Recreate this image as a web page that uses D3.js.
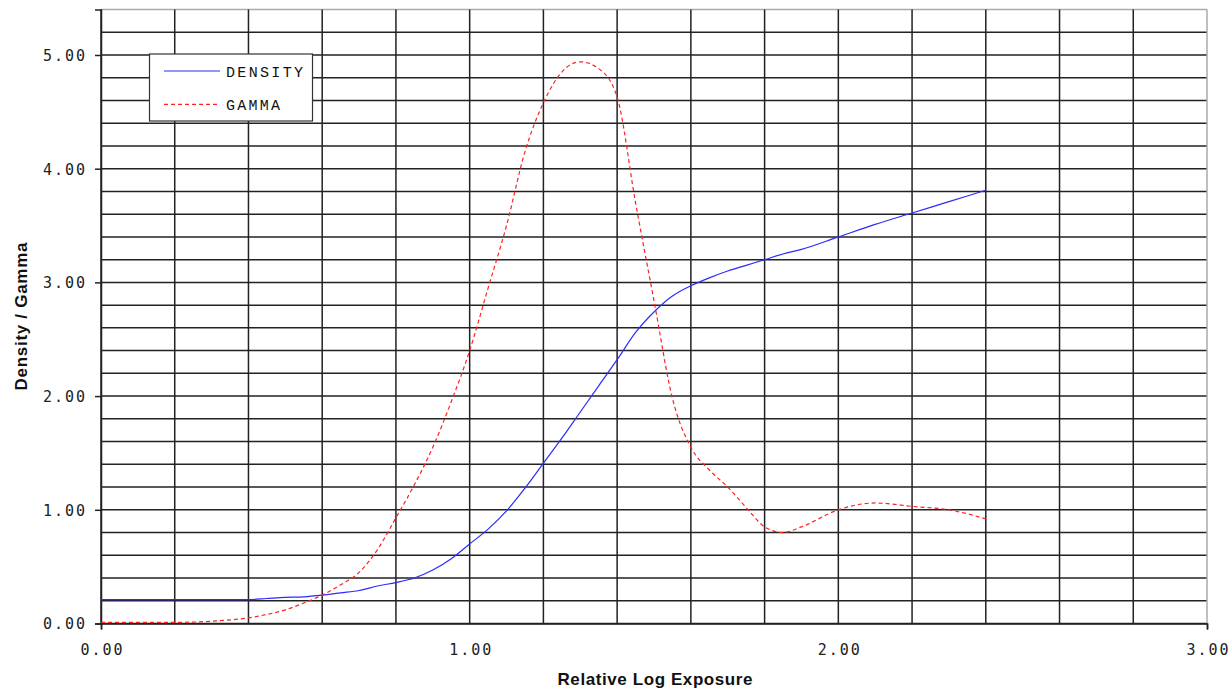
<!DOCTYPE html>
<html><head><meta charset="utf-8">
<script src="https://cdn.jsdelivr.net/npm/d3@7"></script>
<style>
html,body{margin:0;padding:0;background:#fff;}
svg{display:block;}
.tick-label{font-family:"DejaVu Sans Mono","Liberation Mono",monospace;font-size:15px;fill:#222;}
.axis-title{font-family:"Liberation Sans",Arial,sans-serif;font-weight:bold;font-size:17px;fill:#111;}
.legend-text{font-family:"Liberation Mono","Courier New",monospace;font-size:15px;fill:#111;}
</style>
</head><body>
<svg id="chart" width="1230" height="691"></svg>
<script>
const exposure = [0.00,0.10,0.20,0.30,0.40,0.45,0.50,0.55,0.60,0.65,0.70,0.75,0.80,0.85,0.90,0.95,1.00,1.05,1.10,1.15,1.20,1.25,1.30,1.35,1.40,1.45,1.50,1.55,1.60,1.65,1.70,1.75,1.80,1.85,1.90,2.00,2.10,2.20,2.30,2.40];
const density  = [0.21,0.21,0.21,0.21,0.21,0.22,0.23,0.235,0.25,0.27,0.29,0.33,0.36,0.40,0.47,0.57,0.70,0.83,0.99,1.19,1.41,1.63,1.86,2.09,2.32,2.56,2.74,2.88,2.97,3.04,3.10,3.15,3.20,3.25,3.29,3.40,3.51,3.61,3.71,3.81];
const gamma    = [0.01,0.01,0.01,0.02,0.05,0.08,0.12,0.18,0.25,0.34,0.45,0.65,0.93,1.22,1.55,1.95,2.40,2.95,3.50,4.15,4.58,4.85,4.94,4.88,4.63,3.70,2.84,1.98,1.55,1.35,1.20,1.02,0.85,0.80,0.85,1.00,1.06,1.03,1.00,0.92];
const xTicks = [0,1,2,3];
const yTicks = [0,1,2,3,4,5];
const seriesNames = ["DENSITY","GAMMA"];
const seriesColors = ["#2b2bff","#ff2020"];

const svg = d3.select("#chart");
const L = 101, R = 1207, T = 9.5, B = 623.5;
const x = d3.scaleLinear().domain([0,3]).range([L,R]);
const y = d3.scaleLinear().domain([0,5.4]).range([B,T]);

// grid
const xGrid = d3.range(0, 3.0001, 0.2);
const yGrid = d3.range(0, 5.4001, 0.2);
svg.append("g").selectAll("line").data(yGrid).join("line")
  .attr("x1",L).attr("x2",R)
  .attr("y1",d=>y(d)).attr("y2",d=>y(d))
  .attr("stroke",(d,i)=> i===yGrid.length-1 ? "#aaa" : "#222").attr("stroke-width",1.5);
svg.append("g").selectAll("line").data(xGrid).join("line")
  .attr("y1",T).attr("y2",B)
  .attr("x1",d=>x(d)).attr("x2",d=>x(d))
  .attr("stroke",(d,i)=> i===xGrid.length-1 ? "#aaa" : "#222").attr("stroke-width",1.5);

// axes
const yAxis = d3.axisLeft(y).tickValues(yTicks).tickSize(6).tickFormat(d3.format(".2f"));
const gy = svg.append("g").attr("transform",`translate(${L},0)`).call(yAxis);
gy.select(".domain").attr("stroke","#222").attr("stroke-width",1.5);
gy.selectAll(".tick line").attr("stroke","#222").attr("stroke-width",1.5);
gy.selectAll(".tick text").attr("class","tick-label").attr("font-size",null).attr("font-family",null)
  .attr("x", 85 - L).attr("dy","0.36em").attr("textLength",42).attr("lengthAdjust","spacing");

const xAxis = d3.axisBottom(x).tickValues(xTicks).tickSize(6).tickFormat(d3.format(".2f"));
const gx = svg.append("g").attr("transform",`translate(0,${B})`).call(xAxis);
gx.select(".domain").attr("stroke","#222").attr("stroke-width",1.5);
gx.selectAll(".tick line").attr("stroke",d=> (d===0||d===3) ? "#222" : "none").attr("stroke-width",1.5);
gx.selectAll(".tick text").attr("class","tick-label").attr("font-size",null).attr("font-family",null)
  .attr("y", 655 - B).attr("dy",null).attr("textLength",42).attr("lengthAdjust","spacing");

// titles
svg.append("text").attr("class","axis-title").attr("x",(L+R)/2+1).attr("y",685).attr("text-anchor","middle")
  .attr("textLength",195).attr("lengthAdjust","spacing").text("Relative Log Exposure");
svg.append("text").attr("class","axis-title").attr("transform",`translate(27,${(T+B)/2}) rotate(-90)`).attr("text-anchor","middle")
  .attr("textLength",148).attr("lengthAdjust","spacing").text("Density / Gamma");

// lines
const line = d3.line().curve(d3.curveMonotoneX);
svg.append("path").attr("fill","none").attr("stroke",seriesColors[0]).attr("stroke-width",1.2)
  .attr("d", line(exposure.map((e,i)=>[x(e),y(density[i])])));
svg.append("path").attr("fill","none").attr("stroke",seriesColors[1]).attr("stroke-width",1.2).attr("stroke-dasharray","4,3")
  .attr("d", line(exposure.map((e,i)=>[x(e),y(gamma[i])])));

// legend
const lg = svg.append("g");
lg.append("rect").attr("x",149.5).attr("y",54).attr("width",163).attr("height",67).attr("fill","#fff").attr("stroke","#333").attr("stroke-width",1.2);
const legendLens = [77, 54];
seriesNames.forEach((n,i)=>{
  const yy = 71 + i*33.3;
  lg.append("line").attr("x1",164).attr("x2",220).attr("y1",yy).attr("y2",yy)
    .attr("stroke",seriesColors[i]).attr("stroke-width",1.2).attr("stroke-dasharray", i===1 ? "4,3" : null);
  lg.append("text").attr("class","legend-text").attr("x",226).attr("y",yy+5.5)
    .attr("textLength",legendLens[i]).attr("lengthAdjust","spacing").text(n);
});
</script>
</body></html>
